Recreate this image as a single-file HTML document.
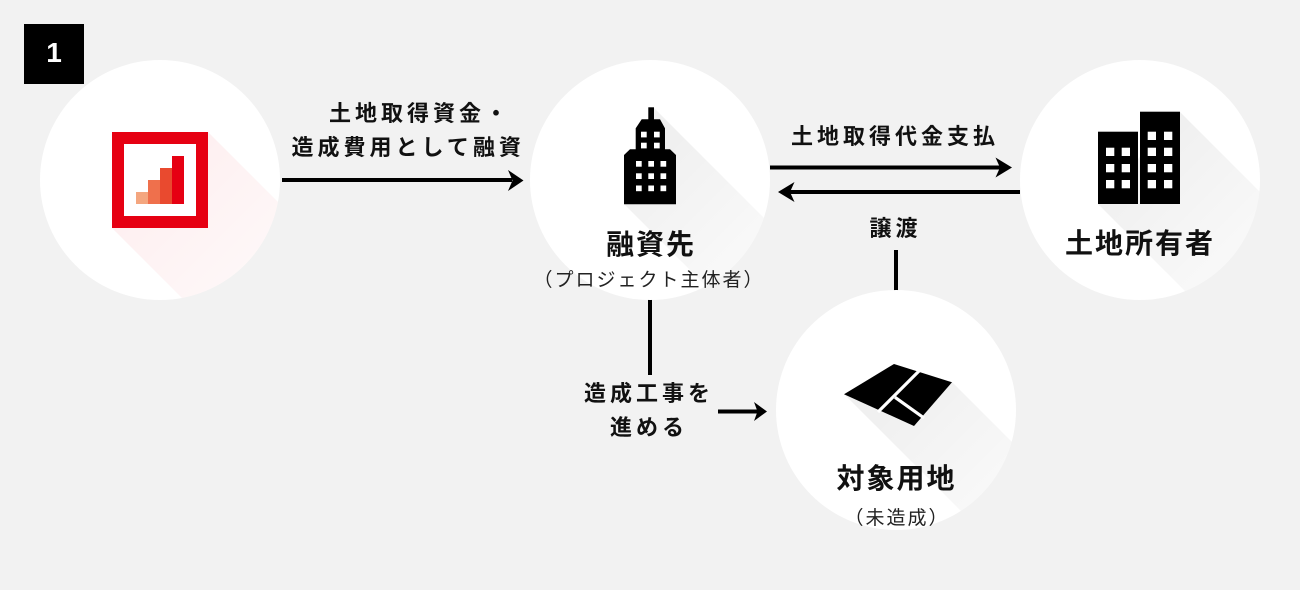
<!DOCTYPE html>
<html><head><meta charset="utf-8">
<style>
html,body{margin:0;padding:0;}
body{width:1300px;height:590px;background:#f2f2f2;position:relative;overflow:hidden;font-family:"Liberation Sans","Noto Sans CJK JP",sans-serif;}
svg{position:absolute;left:0;top:0;}
.t{position:absolute;white-space:nowrap;font-weight:bold;color:#111;line-height:1;text-align:center;box-sizing:border-box;}
.big{font-size:28px;letter-spacing:2px;padding-left:2px;}
.mid{font-size:22px;letter-spacing:4px;padding-left:4px;}
.sm{font-size:19px;font-weight:normal;letter-spacing:2px;padding-left:2px;color:#222;}
.lt{position:absolute;white-space:nowrap;font-weight:bold;color:#111;line-height:1;font-size:22px;letter-spacing:4px;}
</style></head><body>
<svg width="1300" height="590" viewBox="0 0 1300 590">
<defs>
<clipPath id="c1"><circle cx="160" cy="180" r="120"/></clipPath>
<clipPath id="c2"><circle cx="650" cy="180" r="120"/></clipPath>
<clipPath id="c3"><circle cx="1140" cy="180" r="120"/></clipPath>
<clipPath id="c4"><circle cx="896" cy="410" r="120"/></clipPath>
<linearGradient id="g1" gradientUnits="userSpaceOnUse" x1="160" y1="180" x2="300" y2="320"><stop offset="0" stop-color="#e60012" stop-opacity="0.06"/><stop offset="1" stop-color="#e60012" stop-opacity="0.015"/></linearGradient>
<linearGradient id="g2" gradientUnits="userSpaceOnUse" x1="650" y1="156" x2="790" y2="296"><stop offset="0" stop-color="#000" stop-opacity="0.06"/><stop offset="1" stop-color="#000" stop-opacity="0.01"/></linearGradient>
<linearGradient id="g3" gradientUnits="userSpaceOnUse" x1="1140" y1="158" x2="1280" y2="298"><stop offset="0" stop-color="#000" stop-opacity="0.06"/><stop offset="1" stop-color="#000" stop-opacity="0.01"/></linearGradient>
<linearGradient id="g4" gradientUnits="userSpaceOnUse" x1="898" y1="395" x2="1038" y2="535"><stop offset="0" stop-color="#000" stop-opacity="0.06"/><stop offset="1" stop-color="#000" stop-opacity="0.01"/></linearGradient>
</defs>

<!-- number box -->
<rect x="24" y="24" width="60" height="60" fill="#000"/>

<!-- connectors -->
<g fill="#000">
  <rect x="282" y="178" width="230" height="4"/>
  <path d="M523.5,180.5 L508,170 L512.5,180.5 L508,191 Z"/>
  <rect x="770" y="165.5" width="230" height="4"/>
  <path d="M1012,167.5 L995.5,157.5 L1000,167.5 L995.5,177.5 Z"/>
  <rect x="788" y="190" width="232" height="4"/>
  <path d="M778,192 L794.5,182 L790,192 L794.5,202 Z"/>
  <rect x="648" y="290" width="4" height="85"/>
  <rect x="894" y="250" width="4" height="42"/>
  <rect x="718" y="409.5" width="40" height="4"/>
  <path d="M767,411.5 L754,402 L757.5,411.5 L754,421 Z"/>
</g>

<!-- circles -->
<circle cx="160" cy="180" r="120" fill="#fff"/>
<circle cx="650" cy="180" r="120" fill="#fff"/>
<circle cx="1140" cy="180" r="120" fill="#fff"/>
<circle cx="896" cy="410" r="120" fill="#fff"/>

<!-- long shadows -->
<polygon clip-path="url(#c1)" points="208,132 408,332 312,428 112,228" fill="url(#g1)"/>
<polygon clip-path="url(#c2)" points="654,108 854,308 824,404 624,204" fill="url(#g2)"/>
<polygon clip-path="url(#c3)" points="1180,112 1380,312 1298,404 1098,204" fill="url(#g3)"/>
<polygon clip-path="url(#c4)" points="952,382 1152,582 1044,594 844,394" fill="url(#g4)"/>

<!-- icon 1 -->
<rect x="112" y="132" width="96" height="96" fill="#e60012"/>
<rect x="124" y="144" width="72" height="72" fill="#fff"/>
<rect x="136" y="192" width="12" height="12" fill="#f4a67f"/>
<rect x="148" y="180" width="12" height="24" fill="#ef704c"/>
<rect x="160" y="168" width="12" height="36" fill="#e94a2f"/>
<rect x="172" y="156" width="12" height="48" fill="#e60012"/>

<!-- icon 2 building -->
<rect x="648.3" y="107.3" width="5.7" height="13" fill="#000"/>
<polygon fill="#000" points="641.7,119.3 660,119.3 665,128.3 665,149.3 670,149.3 676,155 676,204.3 624,204.3 624,155 630,149.3 635.7,149.3 635.7,128.3"/>
<g fill="#fff">
  <rect x="641" y="131.7" width="5.7" height="5.7"/><rect x="654" y="131.7" width="5.7" height="5.7"/>
  <rect x="641" y="142.7" width="5.7" height="5.7"/><rect x="654" y="142.7" width="5.7" height="5.7"/>
  <rect x="636" y="161" width="5.7" height="5.7"/><rect x="648.3" y="161" width="5.7" height="5.7"/><rect x="660.5" y="161" width="5.7" height="5.7"/>
  <rect x="636" y="173.3" width="5.7" height="5.7"/><rect x="648.3" y="173.3" width="5.7" height="5.7"/><rect x="660.5" y="173.3" width="5.7" height="5.7"/>
  <rect x="636" y="185.5" width="5.7" height="5.7"/><rect x="648.3" y="185.5" width="5.7" height="5.7"/><rect x="660.5" y="185.5" width="5.7" height="5.7"/>
</g>

<!-- icon 3 buildings -->
<rect x="1098" y="131.7" width="40" height="72.3" fill="#000"/>
<rect x="1140" y="111.7" width="40" height="92.3" fill="#000"/>
<g fill="#fff">
  <rect x="1106" y="147.7" width="8.3" height="8.3"/><rect x="1121.7" y="147.7" width="8.3" height="8.3"/>
  <rect x="1106" y="164" width="8.3" height="8.3"/><rect x="1121.7" y="164" width="8.3" height="8.3"/>
  <rect x="1106" y="180" width="8.3" height="8.3"/><rect x="1121.7" y="180" width="8.3" height="8.3"/>
  <rect x="1147.7" y="131.7" width="8.3" height="8.3"/><rect x="1164" y="131.7" width="8.3" height="8.3"/>
  <rect x="1147.7" y="147.7" width="8.3" height="8.3"/><rect x="1164" y="147.7" width="8.3" height="8.3"/>
  <rect x="1147.7" y="164" width="8.3" height="8.3"/><rect x="1164" y="164" width="8.3" height="8.3"/>
  <rect x="1147.7" y="180" width="8.3" height="8.3"/><rect x="1164" y="180" width="8.3" height="8.3"/>
</g>

<!-- icon 4 land -->
<polygon fill="#000" points="844,394.3 894,364 952,382.3 914,426"/>
<line x1="921" y1="369" x2="878" y2="412" stroke="#fff" stroke-width="3.2"/>
<line x1="895" y1="397.3" x2="924" y2="418" stroke="#fff" stroke-width="3.2"/>
</svg>

<div class="t" style="left:24px;top:39px;width:60px;font-size:28px;color:#fff;">1</div>

<!-- node titles -->
<div class="t big" style="left:450px;top:230.8px;width:400px;">融資先</div>
<div class="t sm" style="left:448px;top:271.1px;width:400px;">（プロジェクト主体者）</div>
<div class="t big" style="left:939px;top:229.8px;width:400px;">土地所有者</div>
<div class="t big" style="left:695.5px;top:464.8px;width:400px;">対象用地</div>
<div class="t sm" style="left:696px;top:509.1px;width:400px;">（未造成）</div>

<!-- connector labels -->
<div class="lt" style="left:329px;top:102.7px;">土地取得資金・</div>
<div class="lt" style="left:291.5px;top:136.7px;">造成費用として融資</div>
<div class="t mid" style="left:693px;top:125.7px;width:400px;">土地取得代金支払</div>
<div class="t mid" style="left:693.5px;top:217.7px;width:400px;">譲渡</div>
<div class="t mid" style="left:447px;top:383px;width:400px;">造成工事を</div>
<div class="t mid" style="left:447px;top:416.7px;width:400px;">進める</div>
</body></html>
